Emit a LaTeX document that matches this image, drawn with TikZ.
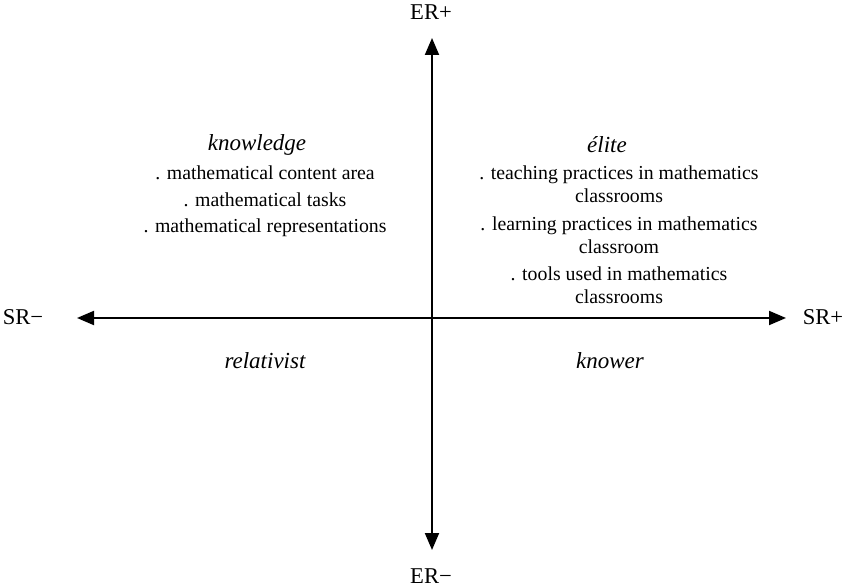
\documentclass[tikz,border=0pt]{standalone}
\usepackage{fontspec}
\setmainfont{Liberation Serif}
\usetikzlibrary{arrows.meta,positioning}

\begin{document}
\begin{tikzpicture}[
  x=0.5pt, y=0.5pt,
  lbl/.style={font=\fontsize{9.9}{11.5}\selectfont, inner sep=0pt, align=center},
  head/.style={lbl, font=\fontsize{11.5}{13}\selectfont\itshape},
  pole/.style={lbl, font=\fontsize{11.3}{13}\selectfont},
  axis/.style={{Triangle[length=8.5pt,width=7pt]}-{Triangle[length=8.5pt,width=7pt]}, line width=1pt}
]
\useasboundingbox (0,0) rectangle (851,-587);

% axis labels
\node[pole] (erp) at (431,-12) {ER+};
\node[pole] (erm) at (431,-576) {ER\textminus};
\node[pole] (srm) at (23,-317) {SR\textminus};
\node[pole] (srp) at (823,-317) {SR+};

% arrow tips
\coordinate (ertop) at (432,-38);
\coordinate (erbot) at (432,-550);
\coordinate (srleft) at (77,-318);
\coordinate (srright) at (786,-318);

\draw[axis] (erbot) -- (ertop);
\draw[axis] (srleft) -- (srright);

% upper left quadrant
\node[head] (know) at (257,-145) {knowledge};
\node[lbl] (content) at (265,-173) {. mathematical content area};
\node[lbl] (tasks) at (265,-200) {. mathematical tasks};
\node[lbl] (reps) at (265,-228) {. mathematical representations};

% upper right quadrant
\node[head] (elite) at (607,-145) {élite};
\node[lbl] (teach) at (619,-184) {. teaching practices in mathematics\\classrooms};
\node[lbl] (learn) at (619,-235) {. learning practices in mathematics\\classroom};
\node[lbl] (tools) at (619,-285) {. tools used in mathematics\\classrooms};

% lower quadrants
\node[head] (rel) at (265,-361) {relativist};
\node[head] (knower) at (610,-361) {knower};
\end{tikzpicture}
\end{document}
